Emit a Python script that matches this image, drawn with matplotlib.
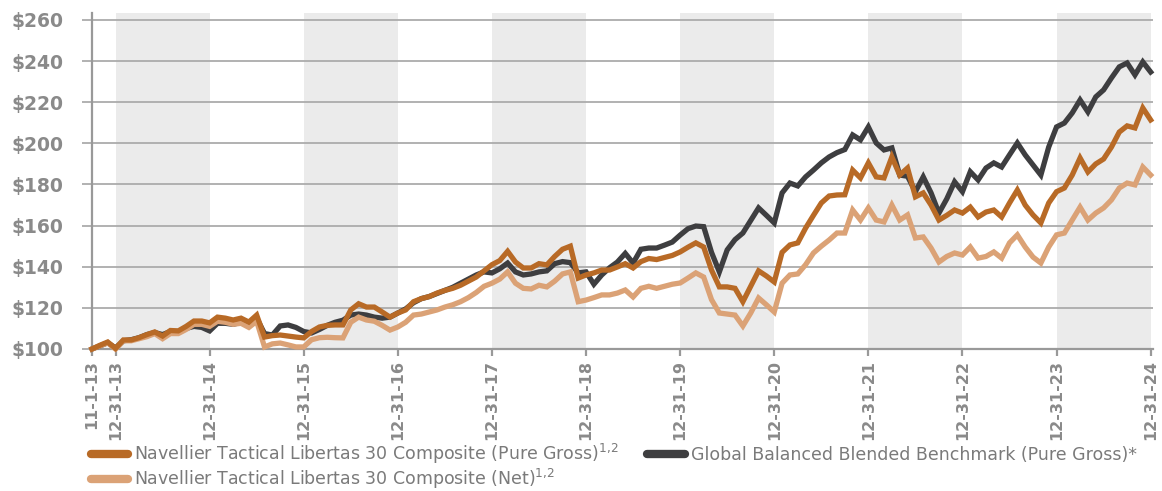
import numpy as np
import matplotlib
matplotlib.use("Agg")
import matplotlib.pyplot as plt

# Monthly growth of $100, from 11-1-13 to 12-31-24
gross = [
    100, 101.8, 103.4, 100.3, 104.4, 104.4, 105.5, 107, 108.3, 106.3, 109, 108.8,
    111, 113.6, 113.6, 112.7, 115.5, 115, 114.1, 115, 113.1, 116.5, 105.8, 106.5,
    106.8, 106.3, 105.8, 105.4, 108.5, 110.7, 111.5, 111.7, 111.7, 119, 122, 120.4,
    120.4, 118, 115.5, 117.5, 119, 123, 124.5, 125.5, 127.2, 128.5, 129.5, 131,
    133, 135, 138, 141, 143, 147.5, 142.3, 139.4, 139.4, 141.5, 140.9, 145,
    148.5, 150, 134.5, 136, 137, 138.4, 138.4, 139.9, 141.5, 139.4, 142.5, 144,
    143.5, 144.5, 145.5, 147.2, 149.5, 151.6, 149.6, 138.4, 130.2, 130.2, 129.5, 123,
    130.5, 138, 135.5, 132.6, 147, 150.6, 151.6, 158.8, 165, 171, 174.4, 174.9,
    175, 187, 183.2, 190.5, 183.7, 183.2, 193.4, 184.6, 188, 174, 175.9, 170,
    162.7, 165, 167.6, 166.1, 169, 164.2, 166.6, 167.6, 164.2, 171, 177.3, 170,
    165.2, 161.3, 171, 176.5, 178.3, 184.6, 192.9, 186.1, 190, 192.4, 198.2, 205.5,
    208.5, 207.5, 217.2, 211.4,
]
benchmark = [
    100, 101.5, 103, 100.5, 104, 104.5, 105.5, 107, 108, 107, 108.5, 108.5,
    110, 111, 110.5, 108.8, 112.5, 112.5, 112, 113, 111, 115, 107.5, 106.8,
    111.2, 111.7, 110.5, 108.5, 107.8, 109.5, 111.5, 113, 114, 116.5, 117, 116.5,
    115.5, 115, 115.5, 117.5, 119.5, 122.5, 124.5, 125.5, 127, 128.5, 130, 132,
    134, 136, 137.5, 137, 139, 141.8, 137.5, 136, 136.5, 137.5, 138, 141.5,
    142.5, 142, 137, 137.5, 131.5, 136, 139.5, 142.3, 146.5, 141.8, 148.5, 149.1,
    149.1, 150.5, 152, 155.4, 158.5, 159.8, 159.5, 147, 137.5, 148.2, 153.2, 156.4,
    162.5, 168.6, 165, 161.3, 175.9, 180.7, 179.3, 183.7, 187, 190.5, 193.4, 195.5,
    197, 204.1, 201.7, 208, 200.2, 196.8, 197.8, 184.6, 184, 176.5, 183.7, 175.9,
    166.1, 173, 181.3, 176.5, 186.2, 182.2, 188, 190.5, 188.5, 194.4, 200.2, 194.4,
    189.5, 184.6, 198.2, 208, 209.9, 214.8, 221.1, 215.3, 222.6, 226, 231.8, 237.2,
    239.1, 233.3, 239.6, 234.7,
]
net = [
    100, 101.5, 103, 100, 104, 104, 105, 106, 107.5, 105, 107.5, 107.5,
    109.5, 112, 112, 111, 113.5, 113, 112, 112.5, 110.5, 113.5, 101, 102.5,
    102.9, 102, 101, 101, 104.5, 105.5, 105.7, 105.5, 105.4, 113, 115.5, 114.1,
    113.5, 111.5, 109.2, 110.7, 113, 116.5, 117, 118, 119, 120.4, 121.5, 123,
    125, 127.5, 130.5, 132, 134, 137.5, 132, 129.5, 129.2, 131, 130.2, 133,
    136.5, 137.5, 123, 123.8, 125, 126.3, 126.3, 127.2, 128.7, 125.3, 129.5, 130.5,
    129.5, 130.5, 131.5, 132.1, 134.5, 137, 135, 124, 117.5, 117, 116.5, 111.2,
    117.5, 124.8, 121.5, 118, 132, 136, 136.5, 141, 146.7, 150, 153, 156.4,
    156.4, 167.6, 162.7, 168.6, 162.7, 161.8, 170, 162.7, 165.2, 154, 154.5, 149.1,
    142.3, 145, 146.7, 145.7, 149.6, 144.2, 145, 147.2, 144.2, 151.6, 155.5, 149.6,
    144.7, 141.8, 149.6, 155.5, 156.4, 162.7, 169, 162.7, 166.1, 168.6, 172.5, 178.3,
    180.7, 179.8, 188.5, 184.6,
]

# x-axis: month index of each labelled date
tick_pos = [0, 3, 15, 27, 39, 51, 63, 75, 87, 99, 111, 123, 135]
tick_labels = ["11-1-13", "12-31-13", "12-31-14", "12-31-15", "12-31-16", "12-31-17",
               "12-31-18", "12-31-19", "12-31-20", "12-31-21", "12-31-22", "12-31-23",
               "12-31-24"]
y_ticks = [100, 120, 140, 160, 180, 200, 220, 240, 260]

c_gross = "#B86A26"
c_bench = "#3E3E40"
c_net = "#DBA276"
grey = "#8A8A8A"

fig = plt.figure(figsize=(11.62, 4.91), dpi=100)
ax = fig.add_axes([92 / 1162, 1 - 349 / 491, (1153 - 92) / 1162, (349 - 13) / 491])

months = np.arange(len(gross))

# alternating shaded years
for i in range(1, len(tick_pos) - 1, 2):
    ax.axvspan(tick_pos[i], tick_pos[i + 1], color="#EBEBEB", lw=0, zorder=0)

sup = r"$^{1{,}2}$"
ax.plot(months, benchmark, color=c_bench, lw=3.8, zorder=3, clip_on=False,
        solid_joinstyle="miter", label="Global Balanced Blended Benchmark (Pure Gross)*")
ax.plot(months, net, color=c_net, lw=3.8, zorder=4, clip_on=False,
        solid_joinstyle="miter", label="Navellier Tactical Libertas 30 Composite (Net)" + sup)
ax.plot(months, gross, color=c_gross, lw=3.8, zorder=5, clip_on=False,
        solid_joinstyle="miter", label="Navellier Tactical Libertas 30 Composite (Pure Gross)" + sup)

ax.set_xlim(0, 135.3)
ax.set_ylim(100, 263.4)
ax.set_yticks(y_ticks)
ax.set_yticklabels([f"${v}" for v in y_ticks])
ax.set_xticks(tick_pos)
ax.set_xticklabels(tick_labels, rotation=90)

ax.grid(axis="y", color="#ABABAB", lw=1.3, zorder=1)
ax.set_axisbelow(True)
for s in ["top", "right"]:
    ax.spines[s].set_visible(False)
for s in ["left", "bottom"]:
    ax.spines[s].set_color("#999999")
    ax.spines[s].set_linewidth(1.6)
ax.tick_params(axis="y", length=7.5, width=1.3, color="#ABABAB", pad=13,
               labelcolor=grey, labelsize=13.5)
ax.tick_params(axis="x", length=5, width=1.6, color="#999999", pad=3,
               labelcolor=grey, labelsize=11.5)
for lbl in ax.get_xticklabels() + ax.get_yticklabels():
    lbl.set_fontweight("bold")

handles, labels = ax.get_legend_handles_labels()
order = [2, 1, 0]
leg = fig.legend([handles[i] for i in order], [labels[i] for i in order],
                 loc="upper left", bbox_to_anchor=(0.078, 0.099), ncol=2,
                 frameon=False, fontsize=12.5, handlelength=2.15, handletextpad=0.35,
                 columnspacing=1.65, labelspacing=0.0, borderaxespad=0,
                 borderpad=0)
for t in leg.get_texts():
    t.set_color("#7A7A7A")
for h in leg.get_lines():
    h.set_linewidth(6)
    h.set_solid_capstyle("round")

fig.savefig("out.png", dpi=100)
